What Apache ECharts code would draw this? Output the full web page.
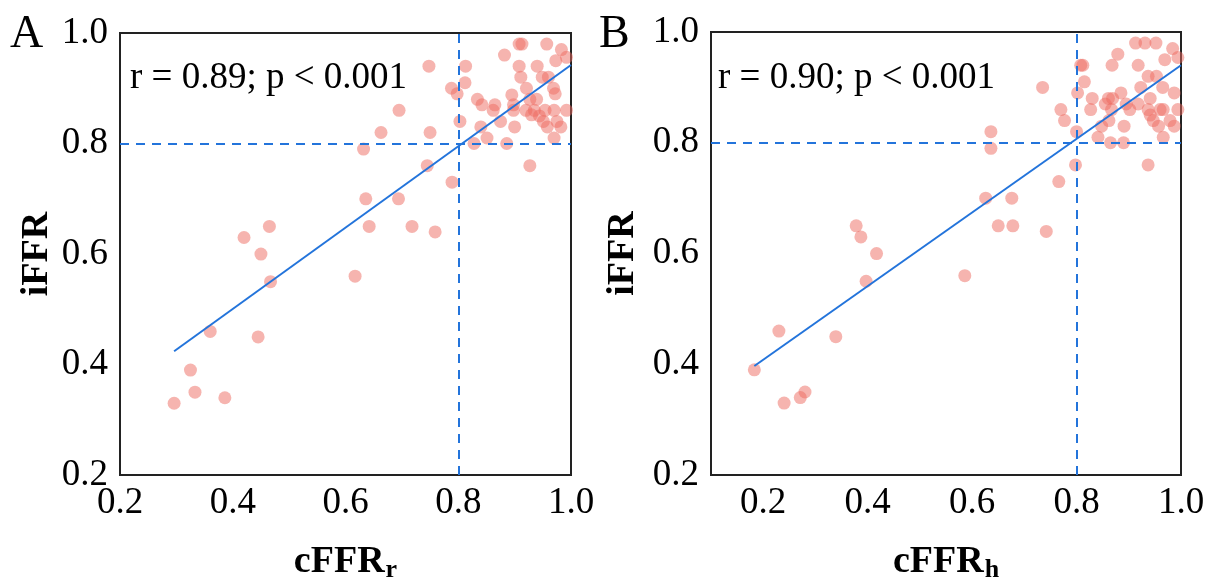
<!DOCTYPE html>
<html><head><meta charset="utf-8">
<script src="https://cdn.jsdelivr.net/npm/echarts@6/dist/echarts.min.js"></script>
<style>html,body{margin:0;padding:0;background:#fff}#c{width:1218px;height:588px}</style>
</head><body><div id="c"></div>
<script>
// Panel A: cFFR_r vs iFFR
const aX = [0.42,0.465,0.45,0.467,0.36,0.445,0.325,0.333,0.296,0.386,0.617,0.748,0.813,0.812,0.788,0.798,0.695,0.803,0.663,0.75,0.632,0.745,0.789,0.636,0.694,0.642,0.718,0.759,0.828,0.851,0.84,0.886,0.927,0.97,0.90,0.875,0.958,0.982,0.975,0.951,0.944,0.93,0.92,0.935,0.954,0.97,0.992,0.898,0.862,0.842,0.834,0.865,0.898,0.895,0.927,0.939,0.921,0.969,0.972,0.911,0.949,0.96,0.908,0.94,0.973,0.882,0.908,0.913,0.957,0.983,0.992];
const aY = [0.63,0.65,0.60,0.55,0.46,0.45,0.39,0.35,0.33,0.34,0.56,0.94,0.94,0.91,0.90,0.89,0.86,0.84,0.82,0.82,0.79,0.76,0.73,0.70,0.70,0.65,0.65,0.64,0.80,0.81,0.83,0.80,0.76,0.81,0.83,0.84,0.83,0.83,0.84,0.84,0.85,0.852,0.86,0.86,0.86,0.86,0.86,0.86,0.86,0.87,0.88,0.87,0.87,0.888,0.88,0.88,0.90,0.90,0.89,0.92,0.92,0.92,0.94,0.94,0.95,0.96,0.98,0.98,0.98,0.97,0.956];
// Panel B: cFFR_h vs iFFR
const bX = [0.378,0.387,0.417,0.397,0.23,0.339,0.183,0.28,0.271,0.24,0.586,0.735,0.636,0.636,0.77,0.777,0.766,0.626,0.676,0.65,0.678,0.742,0.798,0.80,0.802,0.808,0.812,0.815,0.83,0.827,0.841,0.848,0.862,0.855,0.861,0.869,0.867,0.865,0.89,0.891,0.885,0.868,0.879,0.895,0.902,0.918,0.918,0.913,0.931,0.952,0.923,0.937,0.953,0.965,0.941,0.937,0.941,0.947,0.96,0.966,0.957,0.966,0.979,0.987,0.987,0.994,0.969,0.984,0.994,0.937];
const bY = [0.65,0.63,0.60,0.55,0.46,0.45,0.39,0.35,0.34,0.33,0.56,0.90,0.82,0.79,0.86,0.84,0.73,0.70,0.70,0.65,0.65,0.64,0.76,0.82,0.89,0.94,0.94,0.91,0.88,0.86,0.81,0.83,0.84,0.87,0.88,0.88,0.86,0.80,0.80,0.83,0.89,0.94,0.96,0.87,0.86,0.87,0.94,0.98,0.98,0.98,0.90,0.92,0.92,0.90,0.88,0.86,0.85,0.84,0.86,0.86,0.83,0.81,0.84,0.83,0.89,0.86,0.95,0.97,0.954,0.76];
// regression line end points [x, y]
const fitA = [[0.296,0.424],[1.0,0.942]];
const fitB = [[0.183,0.397],[1.0,0.94]];
const cutoff = 0.8;
const statA = 'r = 0.89; p < 0.001';
const statB = 'r = 0.90; p < 0.001';
const panelLabels = ['A','B'];
const xNames = ['{a|cFFR}{s|r}','{a|cFFR}{s|h}'];
const yName = 'iFFR';

const FONT = '"Liberation Serif","Times New Roman",serif';
const DOT = '#EE6A60';
const BLUE = '#2374DB';

function pts(xs, ys){ return xs.map((x,i)=>[x, ys[i]]); }
const nameRich = {
  a:{fontFamily:FONT,fontWeight:'bold',fontSize:38,color:'#000',lineHeight:40,verticalAlign:'top'},
  s:{fontFamily:FONT,fontWeight:'bold',fontSize:26,color:'#000',lineHeight:26,verticalAlign:'bottom',padding:[30,0,0,1]}
};
function xAxis(idx, min){
  return {
    gridIndex: idx, type:'value', min:min, max:1.0, interval:0.1,
    name: xNames[idx], nameLocation:'middle', nameGap: 45,
    nameTextStyle:{rich:nameRich},
    axisLine:{show:false}, axisTick:{show:false}, splitLine:{show:false},
    axisLabel:{fontFamily:FONT,fontSize:37,color:'#000',margin:10,
      showMinLabel:true, showMaxLabel:true,
      formatter:v=>{const k=Math.round(v*10); return k%2===0 ? (k/10).toFixed(1) : '';}}
  };
}
function yAxis(idx, gap){
  return {
    gridIndex: idx, type:'value', min:0.2, max:1.0, interval:0.2,
    name: yName, nameLocation:'middle', nameGap: gap,
    nameTextStyle:{fontFamily:FONT,fontWeight:'bold',fontSize:38,color:'#000'},
    axisLine:{show:false}, axisTick:{show:false}, splitLine:{show:false},
    axisLabel:{fontFamily:FONT,fontSize:37,color:'#000',margin:12,formatter:v=>v.toFixed(1)}
  };
}
function scatter(idx, data){
  return {type:'scatter', xAxisIndex:idx, yAxisIndex:idx, data:data, symbolSize:13,
    itemStyle:{color:DOT, opacity:0.5}, silent:true, z:3};
}
function fitLine(idx, data){
  return {type:'line', xAxisIndex:idx, yAxisIndex:idx, data:data, symbol:'none',
    lineStyle:{color:BLUE,width:2}, silent:true, z:4,
    markLine:{silent:true, symbol:'none', label:{show:false},
      lineStyle:{color:BLUE,width:2,type:[9,7]},
      data:[{xAxis:cutoff},{yAxis:cutoff}]}};
}
const chart = echarts.init(document.getElementById('c'), null, {renderer:'canvas'});
chart.setOption({
  animation:false,
  backgroundColor:'#fff',
  grid:[
    {left:120, top:33, width:451, height:443, show:true, borderColor:'#222', borderWidth:2, backgroundColor:'transparent'},
    {left:711, top:32, width:470, height:444, show:true, borderColor:'#222', borderWidth:2, backgroundColor:'transparent'}
  ],
  xAxis:[xAxis(0,0.2), xAxis(1,0.1)],
  yAxis:[yAxis(0,64), yAxis(1,69)],
  series:[scatter(0, pts(aX,aY)), fitLine(0, fitA), scatter(1, pts(bX,bY)), fitLine(1, fitB)],
  graphic:[
    {type:'text', left:10, top:12, style:{text:panelLabels[0], font:'46px '+FONT, fill:'#000'}},
    {type:'text', left:599, top:12, style:{text:panelLabels[1], font:'46px '+FONT, fill:'#000'}},
    {type:'text', left:130, top:60, style:{text:statA, font:'37px '+FONT, fill:'#000'}},
    {type:'text', left:718, top:60, style:{text:statB, font:'37px '+FONT, fill:'#000'}}
  ]
});
</script></body></html>
